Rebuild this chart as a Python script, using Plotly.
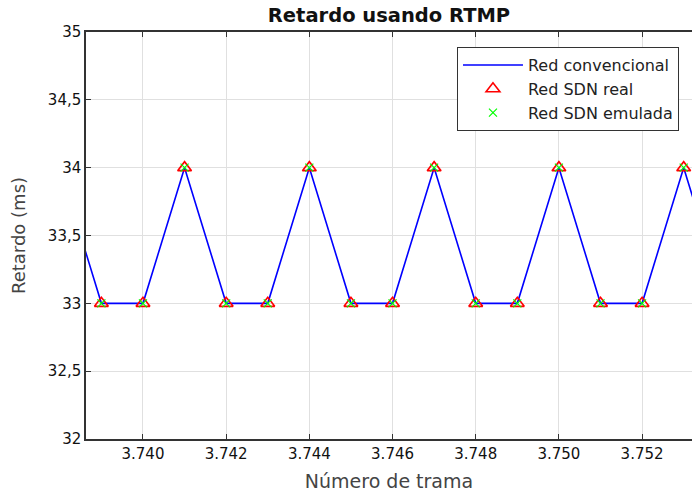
import plotly.graph_objects as go

# frame numbers and delay (ms)
frames = list(range(3738, 3755))
conventional = [34, 33, 33, 34, 33, 33, 34, 33, 33, 34, 33, 33, 34, 33, 33, 34, 33]
sdn_real = [34, 33, 33, 34, 33, 33, 34, 33, 33, 34, 33, 33, 34, 33, 33, 34, 33]
sdn_emulated = [34, 33, 33, 34, 33, 33, 34, 33, 33, 34, 33, 33, 34, 33, 33, 34, 33]

x_ticks = [3740, 3742, 3744, 3746, 3748, 3750, 3752]

fig = go.Figure()

fig.add_trace(go.Scatter(
    x=frames, y=conventional,
    mode="lines",
    name="Red convencional",
    line=dict(color="#0000ff", width=1.6),
))

fig.add_trace(go.Scatter(
    x=frames, y=sdn_real,
    mode="markers",
    name="Red SDN real",
    marker=dict(symbol="triangle-up-open", color="#ff0000", size=12, line=dict(width=1.6)),
))

fig.add_trace(go.Scatter(
    x=frames, y=sdn_emulated,
    mode="markers",
    name="Red SDN emulada",
    marker=dict(symbol="x-thin-open", color="#00ff00", size=8, line=dict(width=1.2, color="#00ff00")),
))

fig.update_layout(
    width=692,
    height=493,
    separators=",.",
    font=dict(family="DejaVu Sans, sans-serif", size=15, color="#111"),
    title=dict(
        text="<b>Retardo usando RTMP</b>",
        x=389 / 692, xanchor="center",
        y=1 - 15 / 493, yanchor="middle",
        font=dict(size=19.5, color="#111"),
    ),
    paper_bgcolor="white",
    plot_bgcolor="white",
    margin=dict(l=86, r=0, t=32, b=54),
    showlegend=True,
    legend=dict(
        x=0.9785, y=0.963, xanchor="right", yanchor="top",
        bgcolor="white",
        bordercolor="#333",
        borderwidth=1,
        font=dict(size=16, color="#222"),
        itemwidth=60,
        tracegroupgap=0,
    ),
)

fig.update_xaxes(
    range=[3738.63, 3753.2],
    tickvals=x_ticks,
    tickformat=",d",
    ticks="inside",
    ticklen=5,
    tickcolor="#333",
    showline=True,
    linecolor="#333",
    linewidth=1.5,
    mirror="ticks",
    showgrid=True,
    gridcolor="#e0e0e0",
    gridwidth=1,
    zeroline=False,
    title=dict(text="Número de trama", font=dict(size=19, color="#444"), standoff=13),
)

fig.update_yaxes(
    range=[32, 35],
    dtick=0.5,
    ticks="inside",
    ticklen=5,
    tickcolor="#333",
    showline=True,
    linecolor="#333",
    linewidth=1.5,
    showgrid=True,
    gridcolor="#e0e0e0",
    gridwidth=1,
    zeroline=False,
    title=dict(text="Retardo (ms)", font=dict(size=18, color="#444"), standoff=18),
)

# drop the default body margin so the figure fills the window exactly
fig.write_html(
    "out.html",
    config={"displayModeBar": False},
    post_script="document.body.style.margin='0';document.body.style.overflow='hidden';",
)
